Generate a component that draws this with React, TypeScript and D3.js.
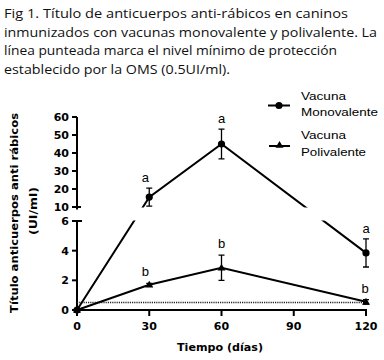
import React from "react";
import * as d3 from "d3";

const titleLines = [
  "Fig 1. Título de anticuerpos anti-rábicos en caninos",
  "inmunizados con vacunas monovalente y polivalente. La",
  "línea punteada marca el nivel mínimo de protección",
  "establecido por la OMS (0.5UI/ml).",
];
const titleWidths = [344, 373, 333, 226];

const days = [0, 30, 60, 120];
const monoMean = [0, 15.5, 45, 3.85];
const monoErr = [0, 5, 8.3, 0.95];
const poliMean = [0, 1.7, 2.85, 0.55];
const poliErr = [0, 0.1, 0.85, 0.15];
const monoLetters = ["", "a", "a", "a"];
const poliLetters = ["", "b", "b", "b"];
const monoLetterDx = [0, -4, 0, 0];
const poliLetterDx = [0, -4, 0, -1];

const xTicks = [0, 30, 60, 90, 120];
const yTicksLow = [0, 2, 4, 6];
const yTicksHigh = [10, 20, 30, 40, 50, 60];
const protectionLevel = 0.5;

const legendNames = [["Vacuna", "Monovalente"], ["Vacuna", "Polivalente"]];

export default function App() {
  const x = d3.scaleLinear().domain([0, 120]).range([77, 366]);
  const yLow = d3.scaleLinear().domain([0, 6]).range([310, 221]);
  const yHigh = d3.scaleLinear().domain([10, 60]).range([207, 117]);
  const y = (v: number) => (v <= 6 ? yLow(v) : yHigh(v));

  const line = d3
    .line<[number, number]>()
    .x((d) => x(d[0]))
    .y((d) => y(d[1]));

  const monoPts = days.map((d, i) => [d, monoMean[i]] as [number, number]);
  const poliPts = days.map((d, i) => [d, poliMean[i]] as [number, number]);

  const tri = (cx: number, cy: number, s = 4) =>
    `M${cx},${cy - s} L${cx + s},${cy + s * 0.7} L${cx - s},${cy + s * 0.7} Z`;

  const errBar = (xi: number, m: number, e: number, key: string) => {
    if (e <= 0) return null;
    const cx = x(xi);
    const top = y(m + e);
    const bot = y(m - e);
    return (
      <g key={key} stroke="#000" strokeWidth={1.3}>
        <line x1={cx} x2={cx} y1={top} y2={bot} />
        <line x1={cx - 3} x2={cx + 3} y1={top} y2={top} />
        <line x1={cx - 3} x2={cx + 3} y1={bot} y2={bot} />
      </g>
    );
  };

  const boldFont = "'DejaVu Sans', sans-serif";
  const thinFont = "'Liberation Sans', Arial, sans-serif";

  return (
    <svg
      width={384}
      height={360}
      style={{ position: "absolute", left: 0, top: 0, background: "#fff" }}
    >
      <defs>
        <clipPath id="gapclip">
          <rect x={0} y={0} width={384} height={207.5} />
          <rect x={0} y={220.5} width={384} height={140} />
        </clipPath>
      </defs>

      {titleLines.map((t, i) => (
        <text
          key={i}
          x={4}
          y={18 + i * 18.6}
          fontFamily="'Open Sans', sans-serif"
          fontSize={12.5}
          fill="#111"
          textLength={titleWidths[i]}
          lengthAdjust="spacingAndGlyphs"
        >
          {t}
        </text>
      ))}

      {/* y axis upper */}
      <line x1={77} x2={77} y1={yHigh(60)} y2={yHigh(10) + 2.5} stroke="#000" strokeWidth={2} />
      {yTicksHigh.map((t) => (
        <g key={"yh" + t}>
          <line
            x1={t === 10 ? 72 : 72}
            x2={t === 10 ? 81 : 77}
            y1={yHigh(t)}
            y2={yHigh(t)}
            stroke="#000"
            strokeWidth={2}
          />
          <text
            x={69}
            y={yHigh(t) + 4}
            textAnchor="end"
            fontFamily={boldFont}
            fontWeight="bold"
            fontSize={11}
          >
            {t}
          </text>
        </g>
      ))}

      {/* y axis lower */}
      <line x1={77} x2={77} y1={yLow(6)} y2={315} stroke="#000" strokeWidth={2} />
      {yTicksLow.map((t) => (
        <g key={"yl" + t}>
          <line
            x1={72}
            x2={t === 6 ? 82 : 77}
            y1={yLow(t)}
            y2={yLow(t)}
            stroke="#000"
            strokeWidth={2}
          />
          <text
            x={69}
            y={yLow(t) + 4}
            textAnchor="end"
            fontFamily={boldFont}
            fontWeight="bold"
            fontSize={11}
          >
            {t}
          </text>
        </g>
      ))}

      {/* x axis */}
      <line x1={73} x2={367} y1={310} y2={310} stroke="#000" strokeWidth={2} />
      {xTicks.map((t) => (
        <g key={"x" + t}>
          <line x1={x(t)} x2={x(t)} y1={310} y2={316} stroke="#000" strokeWidth={2} />
          <text
            x={x(t)}
            y={330}
            textAnchor="middle"
            fontFamily={boldFont}
            fontWeight="bold"
            fontSize={11}
          >
            {t}
          </text>
        </g>
      ))}

      {/* axis titles */}
      <text
        x={220}
        y={351}
        textAnchor="middle"
        fontFamily={boldFont}
        fontWeight="bold"
        fontSize={11}
        textLength={86}
        lengthAdjust="spacingAndGlyphs"
      >
        Tiempo (días)
      </text>
      <text
        transform="translate(18,213) rotate(-90)"
        textAnchor="middle"
        fontFamily={boldFont}
        fontWeight="bold"
        fontSize={11}
        textLength={200}
        lengthAdjust="spacingAndGlyphs"
      >
        Título anticuerpos anti rábicos
      </text>
      <text
        transform="translate(37,211) rotate(-90)"
        textAnchor="middle"
        fontFamily={boldFont}
        fontWeight="bold"
        fontSize={11}
        textLength={48}
        lengthAdjust="spacingAndGlyphs"
      >
        (UI/ml)
      </text>

      {/* protection level */}
      <line
        x1={77}
        x2={366}
        y1={yLow(protectionLevel)}
        y2={yLow(protectionLevel)}
        stroke="#222"
        strokeWidth={1.5}
        strokeDasharray="1.2,1"
      />

      <g clipPath="url(#gapclip)">
        <path d={line(monoPts) || ""} fill="none" stroke="#000" strokeWidth={2} />
        <path d={line(poliPts) || ""} fill="none" stroke="#000" strokeWidth={2} />
        {days.map((d, i) => errBar(d, monoMean[i], monoErr[i], "me" + i))}
        {days.map((d, i) => errBar(d, poliMean[i], poliErr[i], "pe" + i))}
        {monoPts.map((p, i) => (
          <circle key={"mc" + i} cx={x(p[0])} cy={y(p[1])} r={3.6} fill="#000" />
        ))}
        {poliPts.map((p, i) => (
          <path key={"pt" + i} d={tri(x(p[0]), y(p[1]))} fill="#000" />
        ))}
      </g>

      {/* significance letters */}
      {days.map((d, i) =>
        monoLetters[i] ? (
          <text
            key={"ml" + i}
            x={x(d) + monoLetterDx[i]}
            y={y(monoMean[i] + monoErr[i]) - 6}
            textAnchor="middle"
            fontFamily={thinFont}
            fontSize={13}
          >
            {monoLetters[i]}
          </text>
        ) : null
      )}
      {days.map((d, i) =>
        poliLetters[i] ? (
          <text
            key={"pl" + i}
            x={x(d) + poliLetterDx[i]}
            y={y(poliMean[i] + poliErr[i]) - 7}
            textAnchor="middle"
            fontFamily={thinFont}
            fontSize={13}
          >
            {poliLetters[i]}
          </text>
        ) : null
      )}

      {/* legend */}
      <g>
        <line x1={268} x2={290} y1={105.5} y2={105.5} stroke="#000" strokeWidth={2} />
        <circle cx={279} cy={105.5} r={3.6} fill="#000" />
        <text x={301} y={100} fontFamily={thinFont} fontSize={11.5} textLength={45} lengthAdjust="spacingAndGlyphs">
          {legendNames[0][0]}
        </text>
        <text x={301} y={116} fontFamily={thinFont} fontSize={11.5} textLength={77} lengthAdjust="spacingAndGlyphs">
          {legendNames[0][1]}
        </text>
        <line x1={269} x2={290} y1={146} y2={146} stroke="#000" strokeWidth={2} />
        <path d={tri(279.5, 145)} fill="#000" />
        <text x={301} y={139} fontFamily={thinFont} fontSize={11.5} textLength={45} lengthAdjust="spacingAndGlyphs">
          {legendNames[1][0]}
        </text>
        <text x={301} y={156} fontFamily={thinFont} fontSize={11.5} textLength={65} lengthAdjust="spacingAndGlyphs">
          {legendNames[1][1]}
        </text>
      </g>
    </svg>
  );
}
